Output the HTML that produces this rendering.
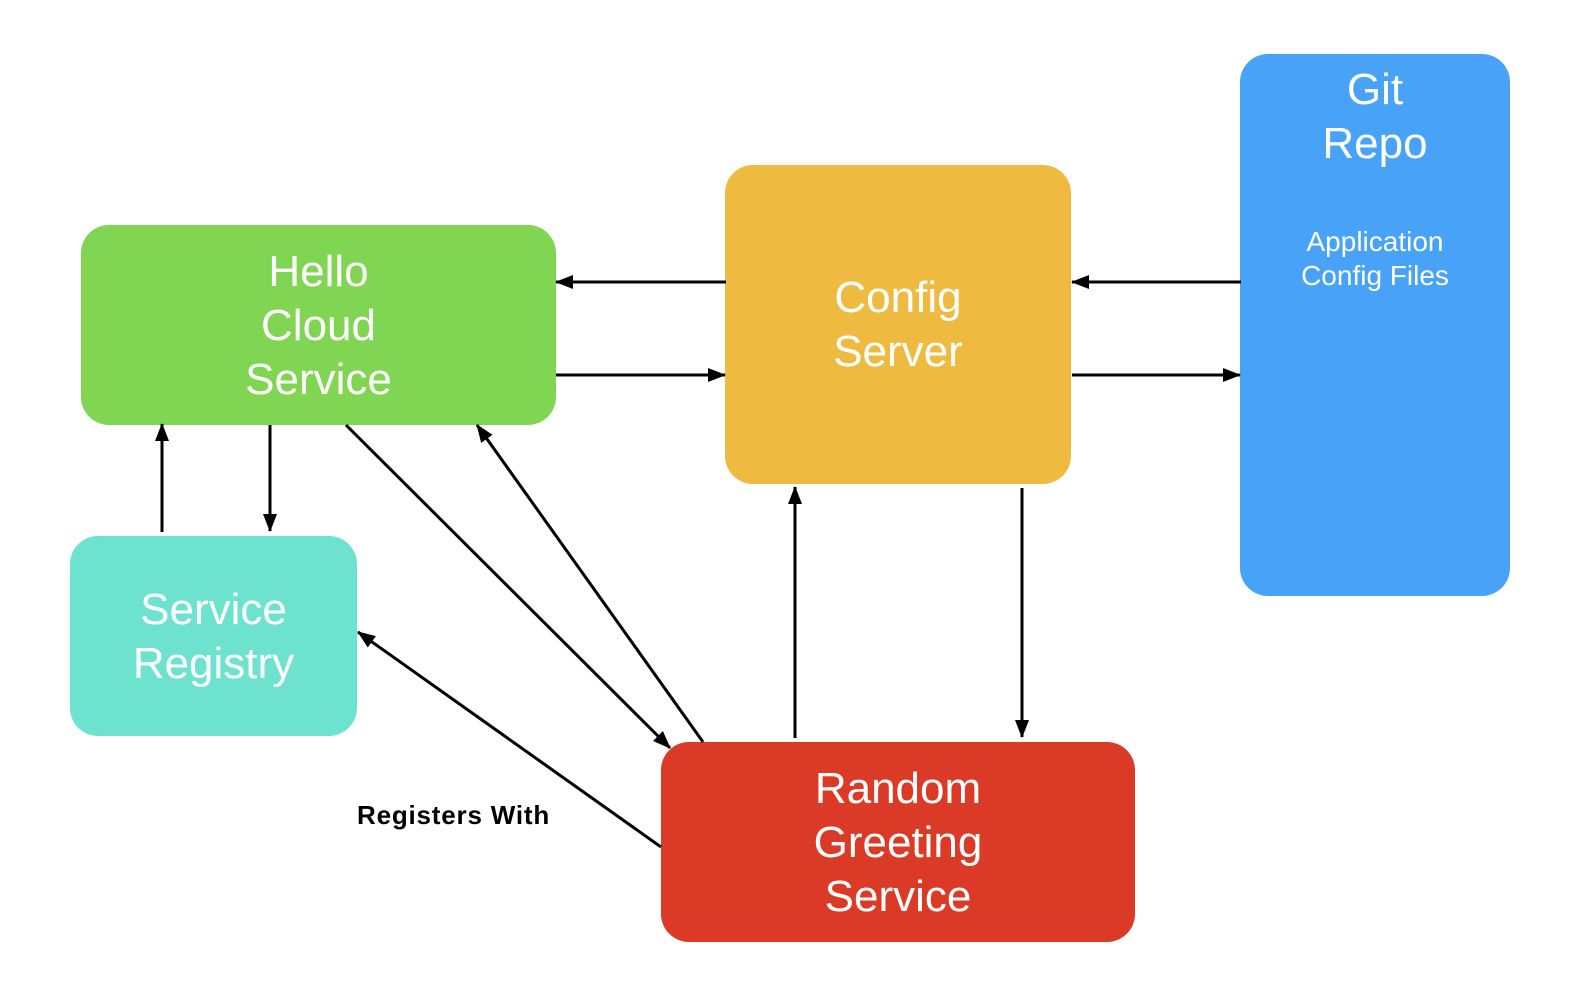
<!DOCTYPE html>
<html><head><meta charset="utf-8"><style>
body{margin:0;width:1590px;height:996px;background:#fff;position:relative;overflow:hidden;font-family:"Liberation Sans",sans-serif}
.b{position:absolute;border-radius:28px;color:#fff;text-align:center;box-sizing:border-box}
.t{position:absolute;left:0;right:0;text-align:center;color:#fff;font-size:44px;line-height:54px}
</style></head><body>
<div class="b" style="left:81px;top:225px;width:475px;height:200px;background:#80D552"></div>
<div class="b" style="left:725px;top:165px;width:346px;height:319px;background:#EEBB40"></div>
<div class="b" style="left:1240px;top:54px;width:270px;height:542px;background:#48A2F8"></div>
<div class="b" style="left:70px;top:536px;width:287px;height:200px;background:#6DE3CF"></div>
<div class="b" style="left:661px;top:742px;width:474px;height:200px;background:#DB3A26"></div>
<div class="t" style="left:81px;width:475px;top:245px">Hello<br>Cloud<br>Service</div>
<div class="t" style="left:725px;width:346px;top:271px">Config<br>Server</div>
<div class="t" style="left:1240px;width:270px;top:63px">Git<br>Repo</div>
<div class="t" style="left:1240px;width:270px;top:225px;font-size:28px;line-height:34px">Application<br>Config Files</div>
<div class="t" style="left:70px;width:287px;top:583px">Service<br>Registry</div>
<div class="t" style="left:661px;width:474px;top:762px">Random<br>Greeting<br>Service</div>
<div style="position:absolute;left:357px;top:800px;font-size:26px;letter-spacing:0.8px;font-weight:bold;color:#000">Registers With</div>
<svg width="1590" height="996" style="position:absolute;left:0;top:0">
<defs><marker id="m" markerWidth="18" markerHeight="14" refX="17" refY="7" orient="auto" markerUnits="userSpaceOnUse"><path d="M0,0L18,7L0,14z" fill="#000"/></marker></defs>
<g stroke="#000" stroke-width="3" fill="none" marker-end="url(#m)">
<line x1="726" y1="282" x2="556" y2="282"/>
<line x1="556" y1="375" x2="725" y2="375"/>
<line x1="1241" y1="282" x2="1072" y2="282"/>
<line x1="1072" y1="375" x2="1240" y2="375"/>
<line x1="162" y1="532" x2="162" y2="424"/>
<line x1="270" y1="425" x2="270" y2="531"/>
<line x1="346" y1="425" x2="670" y2="748"/>
<line x1="703" y1="742" x2="477" y2="425"/>
<line x1="661" y1="847" x2="358" y2="632"/>
<line x1="795" y1="738" x2="795" y2="487"/>
<line x1="1022" y1="488" x2="1022" y2="737"/>
</g></svg>
</body></html>
